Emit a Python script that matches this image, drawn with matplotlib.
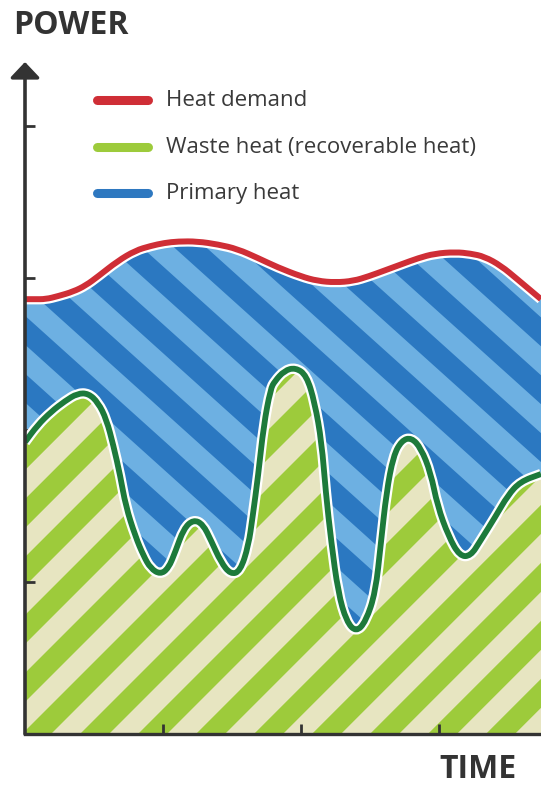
import numpy as np
import matplotlib
matplotlib.use("Agg")
import matplotlib.pyplot as plt
from matplotlib.patches import Polygon, PathPatch
from matplotlib.path import Path
from matplotlib.transforms import IdentityTransform
from matplotlib.lines import Line2D

plt.rcParams['font.family'] = ['Open Sans', 'DejaVu Sans']

# heat demand (red curve)
demand_t = [0, 0.07, 0.15, 0.24, 0.35, 0.44, 0.53, 0.67, 0.80, 0.91, 1.01, 1.11, 1.25,
            1.40, 1.54, 1.69, 1.83, 2.00, 2.12, 2.25, 2.38, 2.49, 2.61, 2.73, 2.85,
            2.97, 3.12, 3.23, 3.33, 3.45, 3.57, 3.74]
demand = [2.86, 2.86, 2.86, 2.88, 2.91, 2.95, 3.01, 3.11, 3.18, 3.21, 3.23, 3.24, 3.24,
          3.22, 3.19, 3.13, 3.07, 3.01, 2.98, 2.97, 2.98, 3.01, 3.05, 3.09, 3.13,
          3.16, 3.17, 3.16, 3.14, 3.08, 2.99, 2.86]

# waste heat (green curve)
waste_t = [0, 0.09, 0.19, 0.29, 0.38, 0.46, 0.53, 0.59, 0.64, 0.69, 0.73, 0.80, 0.86,
           0.91, 0.98, 1.04, 1.09, 1.15, 1.22, 1.29, 1.35, 1.42, 1.49, 1.56, 1.62,
           1.65, 1.69, 1.73, 1.78, 1.81, 1.88, 1.96, 2.04, 2.10, 2.15, 2.18, 2.22,
           2.27, 2.33, 2.40, 2.47, 2.54, 2.58, 2.62, 2.67, 2.73, 2.80, 2.87, 2.94,
           2.99, 3.07, 3.15, 3.23, 3.30, 3.41, 3.50, 3.59, 3.74]
waste = [1.92, 2.03, 2.12, 2.19, 2.24, 2.24, 2.18, 2.07, 1.90, 1.70, 1.50, 1.30, 1.17,
         1.09, 1.05, 1.09, 1.20, 1.35, 1.41, 1.38, 1.27, 1.13, 1.05, 1.07, 1.24,
         1.43, 1.70, 2.03, 2.27, 2.32, 2.39, 2.41, 2.36, 2.18, 1.92, 1.59, 1.26,
         0.93, 0.74, 0.67, 0.74, 0.93, 1.26, 1.59, 1.83, 1.93, 1.95, 1.88, 1.72,
         1.50, 1.30, 1.17, 1.17, 1.27, 1.43, 1.57, 1.66, 1.71]

legend_labels = ['Heat demand', 'Waste heat (recoverable heat)', 'Primary heat']
legend_colors = ['#cf2e36', '#9dcb3b', '#2e78c0']

W, H = 541, 785
fig = plt.figure(figsize=(W / 100, H / 100), dpi=100)
ax = fig.add_axes([25 / W, 51 / H, 516 / W, 672 / H])
ax.set_xlim(0, 3.74)
ax.set_ylim(0, 4.42)
ax.set_autoscale_on(False)


def smooth(xs, ys):
    # quadratic bezier through the midpoints, the read points act as control points
    p = list(zip(xs, ys))
    verts = [p[0], ((p[0][0] + p[1][0]) / 2, (p[0][1] + p[1][1]) / 2)]
    codes = [Path.MOVETO, Path.LINETO]
    for i in range(1, len(p) - 1):
        m = ((p[i][0] + p[i + 1][0]) / 2, (p[i][1] + p[i + 1][1]) / 2)
        verts += [p[i], m]
        codes += [Path.CURVE3, Path.CURVE3]
    verts.append(p[-1])
    codes.append(Path.LINETO)
    return verts, codes


def stripes(patch, angle, period, color, z):
    th = np.deg2rad(angle)
    d = np.array([np.cos(th), np.sin(th)])
    n = np.array([-np.sin(th), np.cos(th)])
    L = 3000
    for k in range(-80, 80):
        p0 = n * (k * period)
        p1 = n * (k * period + period / 2)
        band = Polygon([p0 - L * d, p0 + L * d, p1 + L * d, p1 - L * d], closed=True,
                       transform=IdentityTransform(), facecolor=color,
                       edgecolor='none', zorder=z)
        ax.add_artist(band)
        band.set_clip_path(patch)


gv, gc = smooth(waste_t, waste)
rv, rc = smooth(demand_t, demand)
rv_rev, rc_rev = smooth(demand_t[::-1], demand[::-1])

# primary heat area (between waste heat and demand)
blue = PathPatch(Path(gv + rv_rev + [(0, 0)], gc + [Path.LINETO] + rc_rev[1:] + [Path.CLOSEPOLY]),
                 facecolor='#6db0e2', lw=0, zorder=1)
ax.add_patch(blue)
stripes(blue, -42, 43, '#2b78c1', 1.5)

# waste heat area
green = PathPatch(Path(gv + [(3.74, 0), (0, 0), (0, 0)],
                       gc + [Path.LINETO, Path.LINETO, Path.CLOSEPOLY]),
                  facecolor='#e7e5c1', lw=0, zorder=2)
ax.add_patch(green)
stripes(green, 45, 41, '#9dcb3b', 2.5)

# curves with white outline
ax.add_patch(PathPatch(Path(rv, rc), fill=False, edgecolor='white', lw=7.5, zorder=3))
ax.add_patch(PathPatch(Path(rv, rc), fill=False, edgecolor='#cf2e36', lw=4.3, zorder=4))
ax.add_patch(PathPatch(Path(gv, gc), fill=False, edgecolor='white', lw=7.5, zorder=5,
                       joinstyle='round'))
ax.add_patch(PathPatch(Path(gv, gc), fill=False, edgecolor='#1d7a3b', lw=4.2, zorder=6,
                       joinstyle='round'))

# axes
for s in ['top', 'right', 'left']:
    ax.spines[s].set_visible(False)
ax.spines['bottom'].set_linewidth(2.4)
ax.spines['bottom'].set_color('#333333')
ax.spines['bottom'].set_zorder(10)
ax.set_xticks([1, 2, 3])
ax.set_yticks([1, 2, 3, 4])
ax.tick_params(direction='in', length=7, width=2, color='#333333',
               labelleft=False, labelbottom=False)
for t in ax.xaxis.get_major_ticks() + ax.yaxis.get_major_ticks():
    t.tick1line.set_zorder(10)
ax.set_axisbelow(False)
ax.annotate('', xy=(0, 1), xytext=(0, 0), xycoords='axes fraction',
            arrowprops=dict(arrowstyle='-|>,head_length=0.95,head_width=0.9',
                            color='#333333', lw=2.6, shrinkA=0, shrinkB=0,
                            mutation_scale=10), zorder=11, annotation_clip=False)

# legend
rows = [100, 147, 193]
for lab, col, y in zip(legend_labels, legend_colors, rows):
    fig.add_artist(Line2D([97 / W, 148 / W], [1 - y / H, 1 - y / H], color=col,
                          lw=6.5, solid_capstyle='round'))
    fig.text(166 / W, 1 - y / H, lab, fontsize=16, color='#3a3a3a', va='center')

fig.text(13 / W, 1 - 25 / H, 'POWER', fontsize=23, fontweight='bold',
         color='#333333', va='center')
fig.text(439 / W, 1 - 769 / H, 'TIME', fontsize=23, fontweight='bold',
         color='#333333', va='center')

fig.savefig('out.png', dpi=100)
